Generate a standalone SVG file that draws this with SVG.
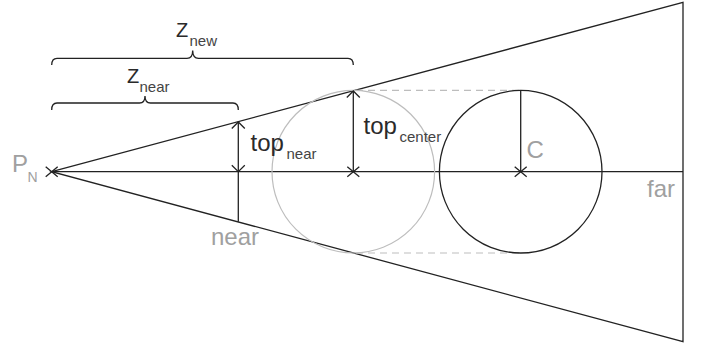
<svg xmlns="http://www.w3.org/2000/svg" width="701" height="345" viewBox="0 0 701 345">
<style>
.ln{fill:none;stroke:#222;stroke-width:1.3;stroke-linejoin:miter}
.gc{fill:none;stroke:#bdbdbd;stroke-width:1.2}
.dash{fill:none;stroke:#bdbdbd;stroke-width:1.2;stroke-dasharray:7 5}
.t{font-family:"Liberation Sans",Arial,sans-serif;fill:#2a2a2a}
.g{font-family:"Liberation Sans",Arial,sans-serif;fill:#a0a0a0}
.sub{fill:#444}
</style>
<rect width="701" height="345" fill="#fff"/>
<g id="connectors">
<path class="ln" d="M51.7,171.7 L683,2.3 L683,341.7 Z"/>
<path class="ln" d="M51.7,171.7 H683"/>
<path class="dash" d="M356,90.4 H520.7 M356,253 H520.7"/>
</g>
<g id="near-plane">
<path class="ln" d="M238.3,122 V221.8"/>
<path class="ln" d="M231.8,128.5 L238.3,122 L244.8,128.5 M231.8,165.2 L238.3,171.7 L244.8,165.2"/>
</g>
<g id="sphere-projected">
<circle class="gc" cx="353.3" cy="171.7" r="81.3"/>
<path class="ln" d="M353.3,91 V171.7"/>
<path class="ln" d="M346.8,97.5 L353.3,91 L359.8,97.5"/>
<path class="ln" d="M347.3,166.7 L359.3,176.7 M347.3,176.7 L359.3,166.7"/>
</g>
<g id="sphere">
<circle class="ln" cx="520.7" cy="171.7" r="81.3"/>
<path class="ln" d="M520.7,90.4 V171.7"/>
<path class="ln" d="M514.7,166.7 L526.7,176.7 M514.7,176.7 L526.7,166.7"/>
</g>
<g id="apex">
<path class="ln" d="M45.7,166.7 L57.7,176.7 M45.7,176.7 L57.7,166.7"/>
<text class="g" x="12" y="172" font-size="24">P</text>
<text class="g" x="27.5" y="181.5" font-size="14">N</text>
</g>
<g id="brace-new">
<path class="ln" d="M51.7,65 C51.7,60.5 53,58.3 57,58.3 H187 C190.5,58.3 192.7,56 192.7,50.5 C192.7,56 195,58.3 198.5,58.3 H348 C352,58.3 353.3,60.5 353.3,65"/>
<text class="t" x="176" y="37" font-size="20">Z</text>
<text class="t sub" x="189.5" y="46" font-size="15">new</text>
</g>
<g id="brace-near">
<path class="ln" d="M51.7,110 C51.7,105.5 53,103 57,103 H139.5 C143,103 145,101 145,96 C145,101 147,103 150.5,103 H233 C237,103 238.3,105.5 238.3,110"/>
<text class="t" x="127" y="83" font-size="20">Z</text>
<text class="t sub" x="139.5" y="92" font-size="15">near</text>
</g>
<g id="labels">
<text class="t" x="250.5" y="150.5" font-size="24">top</text>
<text class="t sub" x="286.5" y="158.5" font-size="15">near</text>
<text class="t" x="363.5" y="134" font-size="24">top</text>
<text class="t sub" x="399.5" y="142" font-size="15">center</text>
<text class="g" x="526.5" y="157.5" font-size="24">C</text>
<text class="g" x="647" y="197" font-size="24">far</text>
<text class="g" x="211" y="245" font-size="24">near</text>
</g>
</svg>
